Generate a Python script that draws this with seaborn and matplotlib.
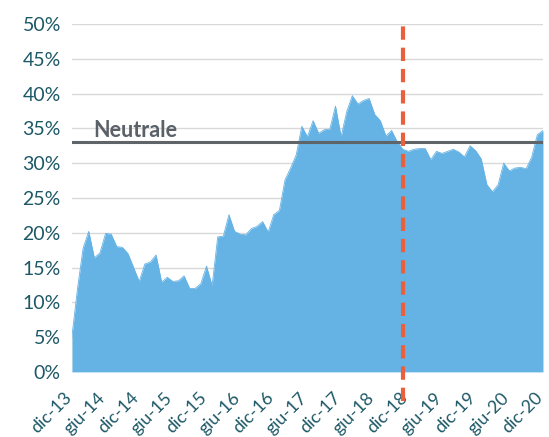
import numpy as np
import pandas as pd
import seaborn as sns
import matplotlib.pyplot as plt
from matplotlib.transforms import ScaledTranslation

# valori mensili (dic-13 .. dic-20), in %
valori = [5.1, 12.0, 17.8, 20.2, 16.4, 17.1, 19.9, 19.8, 18.0, 17.9,
          17.0, 15.0, 13.0, 15.5, 15.8, 16.8, 12.9, 13.6, 13.0, 13.1,
          13.8, 12.0, 12.0, 12.7, 15.2, 12.4, 19.4, 19.5, 22.6, 20.2,
          19.8, 19.7, 20.6, 20.9, 21.6, 20.1, 22.6, 23.2, 27.6, 29.3,
          31.2, 35.3, 33.8, 36.1, 34.3, 34.8, 34.9, 38.2, 33.8, 37.4,
          39.7, 38.5, 39.0, 39.3, 37.0, 36.1, 33.9, 34.7, 33.1, 32.0,
          31.7, 32.0, 32.1, 32.1, 30.5, 31.7, 31.4, 31.7, 32.0, 31.6,
          30.9, 32.5, 31.8, 30.6, 26.9, 25.9, 26.9, 30.0, 28.9, 29.3,
          29.4, 29.2, 30.9, 34.1, 34.7]
etichette = ['dic-13', 'giu-14', 'dic-14', 'giu-15', 'dic-15', 'giu-16', 'dic-16', 'giu-17',
             'dic-17', 'giu-18', 'dic-18', 'giu-19', 'dic-19', 'giu-20', 'dic-20']
neutrale = 33.0
mese_linea = 59  # posizione della linea verticale tratteggiata

df = pd.DataFrame({'mese': np.arange(len(valori)), 'valore': valori})

sns.set_style('white')
plt.rcParams['font.family'] = ['Lato', 'DejaVu Sans']

fig = plt.figure(figsize=(5.49, 4.37), dpi=100)
ax = fig.add_axes([0.131, 0.149, 0.858, 0.796])

azzurro = '#65B2E4'
ax.fill_between(df['mese'], df['valore'], color=azzurro, lw=0, zorder=2)
sns.lineplot(data=df, x='mese', y='valore', ax=ax, color=azzurro, linewidth=0.6, zorder=2)

ax.axhline(neutrale, color='#5F6469', lw=2.2, zorder=3)
ax.text(3.8, neutrale + 0.8, 'Neutrale', fontsize=15.5, fontweight='bold',
        color='#5A6168', va='baseline', ha='left', zorder=4)

ax.axvline(mese_linea, ymin=-0.083, ymax=1.0, color='#E8603C', lw=3,
           dashes=(3.2, 1.9), clip_on=False, zorder=5)

ax.set_xlim(0, len(valori) - 1)
ax.set_ylim(0, 50)
ax.set_yticks(np.arange(0, 51, 5))
ax.set_yticklabels([f'{v}%' for v in range(0, 51, 5)])
ax.set_xticks(np.arange(0, len(valori), 6))
ax.set_xticklabels(etichette, rotation=45, ha='right', va='bottom', rotation_mode='anchor')
ax.grid(axis='y', color='#D9D9D9', lw=1, zorder=0)
ax.set_axisbelow(True)
ax.set_xlabel('')
ax.set_ylabel('')
for s in ax.spines.values():
    s.set_visible(False)
ax.tick_params(axis='y', length=0, labelsize=14, colors='#1D5866', pad=8)
ax.tick_params(axis='x', length=0, labelsize=12.8, colors='#1D5866', pad=21)

# piccolo spostamento a destra delle etichette dell'asse x
sposta = ScaledTranslation(3 / 100, 0, fig.dpi_scale_trans)
for lab in ax.get_xticklabels():
    lab.set_transform(lab.get_transform() + sposta)

fig.savefig('out.png', dpi=100)
